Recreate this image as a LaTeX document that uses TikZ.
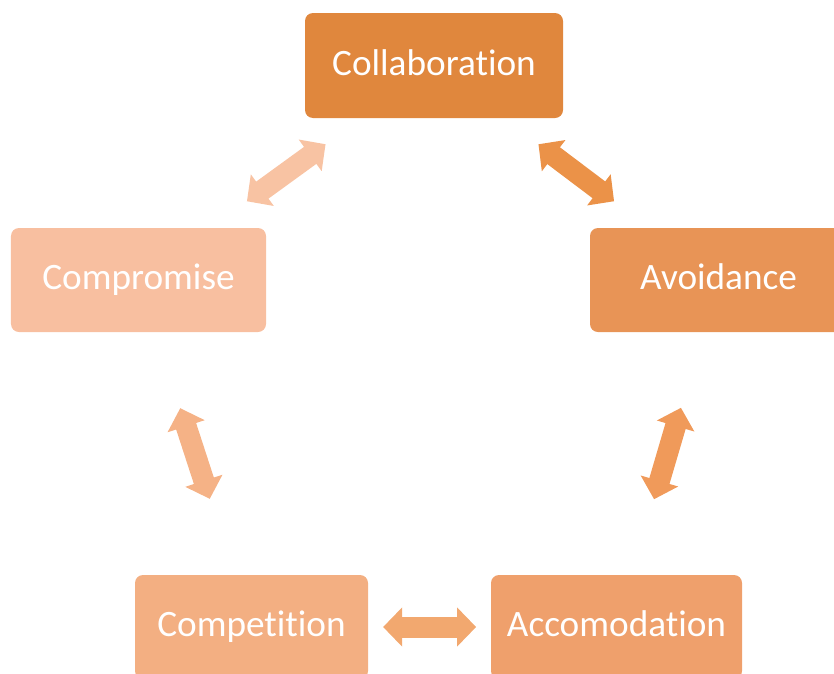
\documentclass[tikz,border=0pt]{standalone}
\usepackage{fontspec}
\setmainfont{Carlito}[Ligatures=NoCommon]
\usetikzlibrary{arrows.meta}

\definecolor{collabfill}{RGB}{224,135,61}
\definecolor{avoidfill}{RGB}{232,148,86}
\definecolor{accomfill}{RGB}{239,160,108}
\definecolor{competfill}{RGB}{243,175,130}
\definecolor{compromfill}{RGB}{248,191,160}

\begin{document}
\begin{tikzpicture}[
    mode/.style={rectangle, rounded corners=0.2cm, text=white, inner sep=0pt,
      font=\fontsize{26.5}{31}\selectfont, minimum height=2.6cm,
      text height=0.575cm, text depth=0.1cm},
    twoway/.style={line width=0.525cm,
      {Triangle[width=0.95cm,length=0.475cm]}-{Triangle[width=0.95cm,length=0.475cm]}}
  ]
  \useasboundingbox (0,0) rectangle (20.85,-16.825);
  \clip (0,0) rectangle (20.85,-16.825);
  % styly riesenia konfliktu
  \node[mode, fill=collabfill, minimum width=6.45cm, minimum height=2.625cm] (collab) at (10.85,-1.6375) {Collaboration};
  \node[mode, fill=compromfill, minimum width=6.375cm] (comprom) at (3.4625,-7.0) {Compromise};
  \node[mode, fill=avoidfill, minimum width=6.425cm] (avoid) at (17.9625,-7.0) {Avoidance};
  \node[mode, fill=competfill, minimum width=5.825cm] (compet) at (6.2875,-15.675) {Competition};
  \node[mode, fill=accomfill, minimum width=6.275cm] (accom) at (15.4125,-15.675) {Accomodation};
  % obojsmerne sipky
  \draw[twoway, draw={rgb,255:red,248;green,195;blue,163}, shorten <=3.35cm, shorten >=3.35cm] (collab.center) -- (comprom.center);
  \draw[twoway, draw={rgb,255:red,235;green,146;blue,72}, shorten <=3.27cm, shorten >=3.27cm] (collab.center) -- (avoid.center);
  \draw[twoway, draw={rgb,255:red,245;green,178;blue,134}, shorten <=3.37cm, shorten >=3.37cm] (comprom.center) -- (compet.center);
  \draw[twoway, draw={rgb,255:red,240;green,154;blue,90}, shorten <=3.33cm, shorten >=3.33cm] (avoid.center) -- (accom.center);
  \draw[twoway, draw={rgb,255:red,242;green,168;blue,111}, shorten <=3.29cm, shorten >=3.51cm] (compet.center) -- (accom.center);
\end{tikzpicture}
\end{document}
